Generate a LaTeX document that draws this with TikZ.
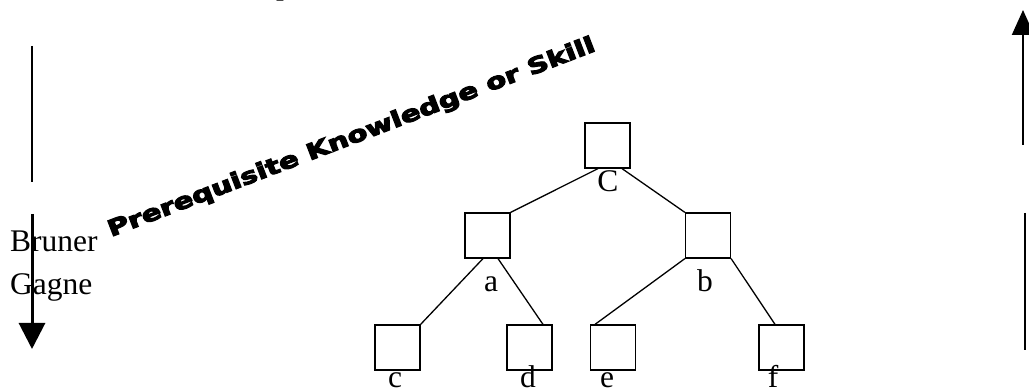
\documentclass[tikz,border=0pt]{standalone}
\usepackage{fontspec}
\usepackage{graphicx}
\setmainfont{Liberation Serif}
\newfontfamily\wordart{DejaVu Sans}
\usetikzlibrary{arrows.meta}

\begin{document}
\begin{tikzpicture}[x=1pt,y=1pt,
  box/.style={shape=rectangle,draw=black,line width=1.2pt,minimum size=45pt,inner sep=0pt},
  lbl/.style={anchor=base,inner sep=0pt,font=\fontsize{31.5}{36}\selectfont},
  link/.style={line width=1.3pt}]
  \useasboundingbox (0,0) rectangle (1029,391);
  % cut-off text at the top
  \node[lbl,anchor=base west] (top) at (276,396) {p};
  % left side
  \coordinate (l1) at (32,345);
  \coordinate (l2) at (32,209);
  \coordinate (l3) at (32,177);
  \coordinate (l4) at (32,42);
  \draw[line width=1.3pt] (l1) -- (l2);
  \node[lbl,anchor=base west] (bruner) at (10,139) {Bruner};
  \node[lbl,anchor=base west] (gagne) at (10,96) {Gagne};
  \draw[line width=3pt,-{Triangle[width=26pt,length=26pt]}] (l3) -- (l4);
  % right side
  \coordinate (r1) at (1023,246);
  \coordinate (r2) at (1023,381);
  \coordinate (r3) at (1025,178);
  \coordinate (r4) at (1025,41);
  \draw[line width=2pt,-{Triangle[width=22pt,length=25pt]}] (r1) -- (r2);
  \draw[line width=1.5pt] (r3) -- (r4);
  % slanted title
  \node[anchor=base west,inner sep=0pt,rotate=21] (req) at (111,154)
    {\resizebox{520pt}{17pt}{\special{pdf:literal direct 0.45 w 2 Tr}\wordart\bfseries Prerequisite Knowledge or Skill\special{pdf:literal direct 0 Tr}}};
  % tree
  \node[box] (C) at (607.5,245.5) {};
  \node[box] (a) at (487.5,155.5) {};
  \node[box] (b) at (708,155.5) {};
  \node[box] (c) at (397.5,43.5) {};
  \node[box] (d) at (529.5,43.5) {};
  \node[box] (e) at (613,43.5) {};
  \node[box] (f) at (781.5,43.5) {};
  \node[lbl] (Clbl) at (608,199) {C};
  \node[lbl] (albl) at (491,99) {a};
  \node[lbl] (blbl) at (705,99) {b};
  \node[lbl] (clbl) at (395,3) {c};
  \node[lbl] (dlbl) at (528,3) {d};
  \node[lbl] (elbl) at (607,3) {e};
  \node[lbl] (flbl) at (773,3) {f};
  \draw[link] ([xshift=-9.5pt]C.south) -- (a.north east);
  \draw[link] ([xshift=14.5pt]C.south) -- (b.north west);
  \draw[link] ([xshift=-4.5pt]a.south) -- (c.north east);
  \draw[link] ([xshift=10.5pt]a.south) -- ([xshift=13.5pt]d.north);
  \draw[link] (b.south west) -- ([xshift=-18pt]e.north);
  \draw[link] (b.south east) -- ([xshift=-6.5pt]f.north);
\end{tikzpicture}
\end{document}
